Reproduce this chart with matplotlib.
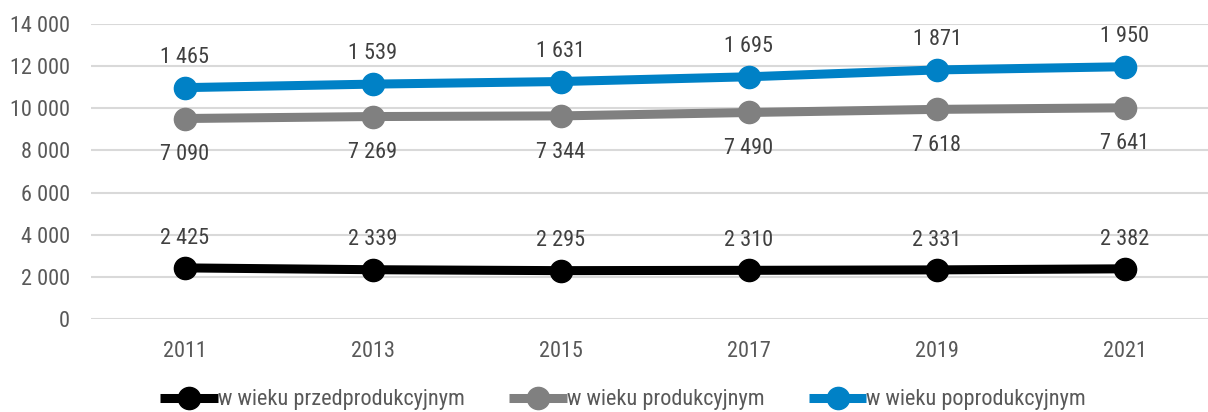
import matplotlib
matplotlib.use("Agg")
import matplotlib.pyplot as plt
import numpy as np

years = ["2011", "2013", "2015", "2017", "2019", "2021"]
przed = [2425, 2339, 2295, 2310, 2331, 2382]
prod = [7090, 7269, 7344, 7490, 7618, 7641]
poprod = [1465, 1539, 1631, 1695, 1871, 1950]
series_names = ["w wieku przedprodukcyjnym", "w wieku produkcyjnym", "w wieku poprodukcyjnym"]
colors = ["#000000", "#808080", "#0081C6"]

plt.rcParams['font.family'] = ['Roboto Condensed', 'Liberation Sans', 'DejaVu Sans']

def fmt(v):
    return f"{v:,}".replace(",", " ")

FS = 16
fig = plt.figure(figsize=(12.08, 4.12), dpi=100)
ax = fig.add_axes([91/1208, 93/412, 1128/1208, 295/412])
x = np.arange(len(years))
c1 = np.array(przed)
c2 = c1 + np.array(prod)
c3 = c2 + np.array(poprod)
stacks = [c1, c2, c3]
vals = [przed, prod, poprod]
offsets = [17.5, -30, 18]
for i in range(3):
    ax.plot(x, stacks[i], color=colors[i], lw=6.5, marker='o', ms=16,
            label=series_names[i], solid_capstyle='butt', zorder=3)
    for xi, yv, v in zip(x, stacks[i], vals[i]):
        ax.annotate(fmt(v), (xi, yv), xytext=(0, offsets[i]), textcoords='offset points',
                    ha='center', va='baseline',
                    fontsize=FS, color='#404040', zorder=4)

ax.set_xlim(-0.5, 5.5)
ax.set_ylim(0, 14000)
ax.set_yticks(np.arange(0, 14001, 2000))
ax.set_yticklabels([fmt(v) for v in range(0, 14001, 2000)])
ax.set_xticks(x)
ax.set_xticklabels(years)
ax.tick_params(axis='both', length=0, labelsize=FS, colors='#595959')
ax.tick_params(axis='x', pad=16)
ax.tick_params(axis='y', pad=15)
ax.grid(axis='y', color='#D9D9D9', lw=1.5)
ax.set_axisbelow(True)
for s in ax.spines.values():
    s.set_visible(False)

leg = fig.legend(loc='center', bbox_to_anchor=(623/1208, 12/412), ncol=3, frameon=False,
                 fontsize=FS, handlelength=2.6, handletextpad=0.0, columnspacing=2.0,
                 labelcolor='#595959', markerscale=1.0)
fig.savefig("out.png", dpi=100)
